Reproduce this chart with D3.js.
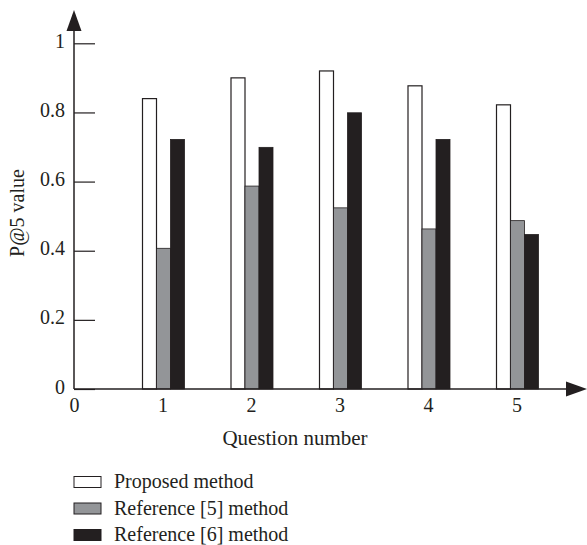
<!DOCTYPE html>
<html>
<head>
<meta charset="utf-8">
<script src="https://cdn.jsdelivr.net/npm/d3@7"></script>
<style>
  body { margin: 0; background: #fff; }
  text { font-family: "Liberation Serif", "DejaVu Serif", serif; fill: #231f20; }
</style>
</head>
<body>
<div class="usable"></div>
<script>
// datos
const questions = [1, 2, 3, 4, 5]
const series = ["Proposed method", "Reference [5] method", "Reference [6] method"]
const proposed = [0.84, 0.90, 0.92, 0.877, 0.822]
const ref5 = [0.407, 0.587, 0.524, 0.463, 0.487]
const ref6 = [0.722, 0.699, 0.799, 0.722, 0.447]
const yTicks = [0, 0.2, 0.4, 0.6, 0.8, 1]
const xTicks = [0, 1, 2, 3, 4, 5]

const colores = ["#ffffff", "#939598", "#231f20"]
const valores = [proposed, ref5, ref6]
const fuente = "Liberation Serif, DejaVu Serif, serif"

const width = 587,
  height = 545

let svg = d3.select(".usable").append("svg")
  .attr("width", width)
  .attr("height", height)

const x = d3.scaleLinear().domain([0, 5]).range([74, 516.5])
const y = d3.scaleLinear().domain([0, 1]).range([389, 43.3])
const dentro = d3.scaleBand().domain(series).range([-21, 21])

// barras
series.forEach(function (s, i) {
  svg.append("g").selectAll("rect")
    .data(questions)
    .join("rect")
    .attr("x", (q) => x(q) + 1 + dentro(s))
    .attr("y", (q, j) => y(valores[i][j]))
    .attr("width", dentro.bandwidth())
    .attr("height", (q, j) => y(0) - y(valores[i][j]))
    .attr("fill", colores[i])
    .attr("stroke", "#231f20")
    .attr("stroke-width", i == 0 ? 1.2 : 0.8)
})

// eje y
let ejeY = svg.append("g")
  .attr("transform", "translate(74,0)")
  .call(d3.axisLeft(y).tickValues(yTicks).tickFormat(d3.format("")).tickSizeInner(-21).tickSizeOuter(0).tickPadding(9))
ejeY.attr("font-family", fuente).attr("font-size", 20)
ejeY.select(".domain").remove()
ejeY.selectAll("line").attr("stroke", "#231f20").attr("stroke-width", 1.2)
ejeY.selectAll("text").attr("dy", "0.2em").attr("fill", "#231f20")

// eje x
let ejeX = svg.append("g")
  .attr("transform", "translate(0,389)")
  .call(d3.axisBottom(x).tickValues(xTicks).tickFormat(d3.format("d")).tickSize(0).tickPadding(9))
ejeX.attr("font-family", fuente).attr("font-size", 20)
ejeX.select(".domain").remove()
ejeX.selectAll("text").attr("fill", "#231f20")

// lineas de ejes con flechas
svg.append("line").attr("x1", 74).attr("y1", 389).attr("x2", 74).attr("y2", 25)
  .attr("stroke", "#231f20").attr("stroke-width", 1.5)
svg.append("path").attr("d", "M74,10 L81.5,31 L66.5,31 Z").attr("fill", "#231f20")
svg.append("line").attr("x1", 74).attr("y1", 389).attr("x2", 572).attr("y2", 389)
  .attr("stroke", "#231f20").attr("stroke-width", 1.5)
svg.append("path").attr("d", "M587,389 L566,381.5 L566,396.5 Z").attr("fill", "#231f20")

// titulos
svg.append("text").attr("x", 295).attr("y", 445).attr("text-anchor", "middle")
  .attr("font-size", 21).text("Question number")
svg.append("text").attr("transform", "translate(24,213) rotate(-90)").attr("text-anchor", "middle")
  .attr("font-size", 20).text("P@5 value")

// leyenda
let leyenda = svg.append("g").selectAll("g")
  .data(series)
  .join("g")
  .attr("transform", (d, i) => "translate(74," + (482 + i * 26.5) + ")")
leyenda.append("rect").attr("x", 0).attr("y", -5.5).attr("width", 27).attr("height", 11)
  .attr("fill", (d, i) => colores[i]).attr("stroke", "#231f20").attr("stroke-width", 1)
leyenda.append("text").attr("x", 40).attr("y", 6).attr("font-size", 20).text((d) => d)
</script>
</body>
</html>
